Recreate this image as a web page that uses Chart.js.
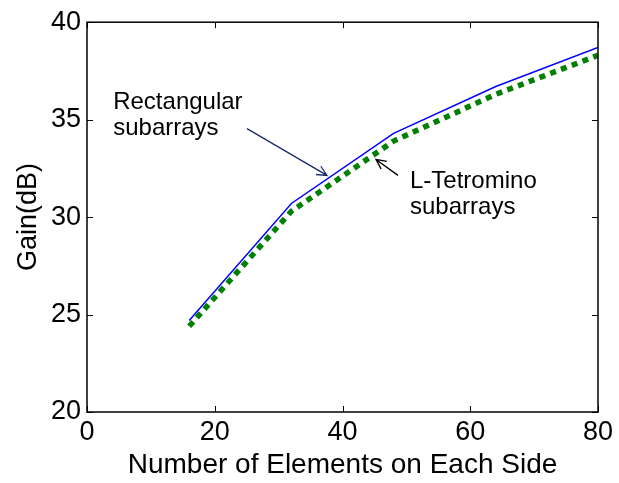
<!DOCTYPE html>
<html>
<head>
<meta charset="utf-8">
<script src="https://cdn.jsdelivr.net/npm/chart.js@4.4.0/dist/chart.umd.min.js"></script>
<style>
  html, body { margin: 0; padding: 0; background: #fff; }
  canvas { display: block; }
</style>
</head>
<body>
<canvas id="gainChart" width="619" height="483"></canvas>
<script>
'use strict';
// ---------------------- Data -----------------
const elementCounts = [16, 32, 48, 64, 80];
const rectangularGain = [24.7, 30.7, 34.3, 36.7, 38.7];
const tetrominoGain = [24.4, 30.3, 33.9, 36.3, 38.3];
const xTicks = [0, 20, 40, 60, 80];
const yTicks = [20, 25, 30, 35, 40];

const FONT = '"Liberation Sans", Arial, Helvetica, sans-serif';

// callouts in data units: text anchor (left, first baseline), arrow tail and tip
const callouts = [
  { lines: ['Rectangular', 'subarrays'], text: [4.1, 35.56], tail: [25.05, 34.54], tip: [37.57, 32.14], color: '#1b2b6b' },
  { lines: ['L-Tetromino', 'subarrays'], text: [50.57, 31.48], tail: [48.69, 32.14], tip: [45.24, 32.96], color: '#000000' }
];

function toPoints(xs, ys) {
  return xs.map((x, i) => ({ x: x, y: ys[i] }));
}

// ---------------------- Plugins -----------------
// box round the plot with ticks pointing inwards
const frameTicks = {
  id: 'frameTicks',
  afterDraw(chart) {
    const { ctx, chartArea: area, scales } = chart;
    const len = 6;
    ctx.save();
    ctx.strokeStyle = '#000';
    ctx.lineWidth = 1.5;
    ctx.strokeRect(area.left, area.top, area.right - area.left, area.bottom - area.top);
    ctx.lineWidth = 1;
    ctx.beginPath();
    for (const v of xTicks) {
      const px = Math.round(scales.x.getPixelForValue(v)) + 0.5;
      ctx.moveTo(px, area.bottom); ctx.lineTo(px, area.bottom - len);
      ctx.moveTo(px, area.top); ctx.lineTo(px, area.top + len);
    }
    for (const v of yTicks) {
      const py = Math.round(scales.y.getPixelForValue(v)) + 0.5;
      ctx.moveTo(area.left, py); ctx.lineTo(area.left + len, py);
      ctx.moveTo(area.right, py); ctx.lineTo(area.right - len, py);
    }
    ctx.stroke();
    ctx.restore();
  }
};

function drawArrow(ctx, x0, y0, x1, y1) {
  const ang = Math.atan2(y1 - y0, x1 - x0);
  const head = 11;
  const spread = 0.45;
  ctx.beginPath();
  ctx.moveTo(x0, y0);
  ctx.lineTo(x1, y1);
  ctx.moveTo(x1 - head * Math.cos(ang - spread), y1 - head * Math.sin(ang - spread));
  ctx.lineTo(x1, y1);
  ctx.lineTo(x1 - head * Math.cos(ang + spread), y1 - head * Math.sin(ang + spread));
  ctx.stroke();
}

const calloutLabels = {
  id: 'calloutLabels',
  afterDatasetsDraw(chart) {
    const { ctx, scales } = chart;
    const px = v => scales.x.getPixelForValue(v);
    const py = v => scales.y.getPixelForValue(v);
    ctx.save();
    ctx.font = '24px ' + FONT;
    ctx.textAlign = 'left';
    ctx.textBaseline = 'alphabetic';
    for (const c of callouts) {
      ctx.fillStyle = '#000';
      c.lines.forEach((line, i) => {
        ctx.fillText(line, px(c.text[0]), py(c.text[1]) + i * 26);
      });
      ctx.strokeStyle = c.color;
      ctx.lineWidth = 1.3;
      drawArrow(ctx, px(c.tail[0]), py(c.tail[1]), px(c.tip[0]), py(c.tip[1]));
    }
    ctx.restore();
  }
};

// ---------------------- Chart -----------------
const context = document.getElementById('gainChart').getContext('2d');
const gainChart = new Chart(context, {
  type: 'line',
  data: {
    datasets: [{
      label: 'Rectangular subarrays',
      data: toPoints(elementCounts, rectangularGain),
      borderColor: '#0000ff',
      borderWidth: 1.5,
      pointRadius: 0,
      tension: 0
    }, {
      label: 'L-Tetromino subarrays',
      data: toPoints(elementCounts, tetrominoGain),
      borderColor: '#008000',
      borderWidth: 5.5,
      borderDash: [6, 5.5],
      borderCapStyle: 'butt',
      pointRadius: 0,
      tension: 0
    }]
  },
  options: {
    responsive: false,
    animation: false,
    layout: { autoPadding: false, padding: { left: 0, top: 20, right: 21, bottom: 0 } },
    plugins: { legend: { display: false }, tooltip: { enabled: false } },
    scales: {
      x: {
        type: 'linear',
        min: 0,
        max: 80,
        afterBuildTicks: scale => { scale.ticks = xTicks.map(v => ({ value: v })); },
        afterFit: scale => { scale.height = 71; },
        grid: { display: false, drawTicks: false },
        border: { display: false },
        ticks: { color: '#000', padding: 4, maxRotation: 0, font: { family: FONT, size: 27 } },
        title: {
          display: true,
          text: 'Number of Elements on Each Side',
          color: '#000',
          padding: { top: 0, bottom: 1 },
          font: { family: FONT, size: 28 }
        }
      },
      y: {
        min: 20,
        max: 40,
        afterBuildTicks: scale => { scale.ticks = yTicks.map(v => ({ value: v })); },
        afterFit: scale => { scale.width = 87; },
        grid: { display: false, drawTicks: false },
        border: { display: false },
        ticks: { color: '#000', padding: 6, font: { family: FONT, size: 27 } },
        title: {
          display: true,
          text: 'Gain(dB)',
          color: '#000',
          padding: { top: 12, bottom: 0 },
          font: { family: FONT, size: 27 }
        }
      }
    }
  },
  plugins: [frameTicks, calloutLabels]
});
</script>
</body>
</html>
